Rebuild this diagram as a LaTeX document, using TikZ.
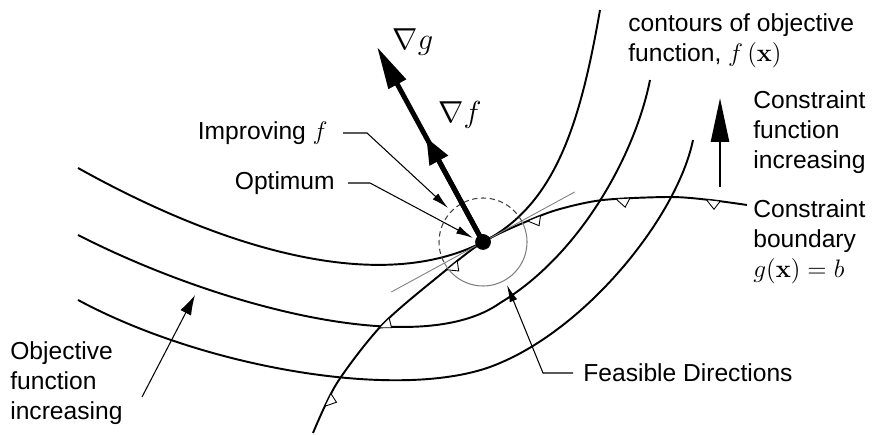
\documentclass[tikz,border=0pt]{standalone}
\usepackage[no-math]{fontspec}
\setmainfont{Liberation Sans}
\usetikzlibrary{arrows.meta,decorations.markings}

\newcommand{\tritick}{\draw[fill=white, line width=0.5pt] (-4pt,0) -- (4pt,0) -- (1pt,-5pt) -- cycle;}

\tikzset{
  contour/.style={line width=1.1pt},
  leader/.style={line width=0.6pt, -{Latex[length=0.34cm,width=0.16cm]}},
  lbl/.style={font=\fontsize{14}{17}\selectfont, align=left, inner sep=0pt},
  grad/.style={font=\fontsize{16}{19}\selectfont, inner sep=0pt},
  boundary/.style={contour, postaction={decorate}, decoration={markings,
      mark=at position 0.068 with {\tritick},
      mark=at position 0.248 with {\tritick},
      mark=at position 0.415 with {\tritick},
      mark=at position 0.594 with {\tritick},
      mark=at position 0.766 with {\tritick},
      mark=at position 0.936 with {\tritick}}}
}

\begin{document}
\begin{tikzpicture}
  \useasboundingbox (0,0) rectangle (17.56,8.70);
  \coordinate (O) at (9.66,3.86);

  \draw[contour] (1.56,5.34) .. controls (4.50,3.70) and (7.60,2.80) .. (O)
    .. controls (11.10,4.60) and (11.60,6.20) .. (12.00,8.50);
  \draw[contour] (1.56,4.00) .. controls (4.36,2.57) and (8.40,1.50) .. (10.00,2.64)
    .. controls (11.60,3.60) and (12.70,5.60) .. (13.00,7.10);
  \draw[contour] (1.56,2.70) .. controls (4.16,1.30) and (8.20,0.64) .. (10.00,1.44)
    .. controls (11.80,2.20) and (13.55,4.40) .. (13.86,5.90);

  \draw[boundary] plot[smooth] coordinates {(6.26,0.04) (6.74,1.04) (7.64,2.20) (8.80,3.20) (9.66,3.86) (10.60,4.30) (11.20,4.52) (12.06,4.70) (13.40,4.76) (14.20,4.70) (14.94,4.60)};

  \draw[gray, line width=0.5pt] (O) ++(208.6:2.09) -- ++(28.6:4.18);
  \draw[black!75, line width=0.6pt, dash pattern=on 3pt off 2pt] (O) ++(28.6:0.88) arc (28.6:208.6:0.88);
  \draw[gray, line width=0.6pt] (O) ++(208.6:0.88) arc (208.6:388.6:0.88);

  \draw[line width=2.8pt, -{Triangle[length=0.85cm,width=0.38cm]}] (O) -- ++(118.5:4.44) coordinate (gtip);
  \draw[line width=2.8pt, -{Triangle[length=0.53cm,width=0.40cm]}] (O) -- ++(118.5:2.38) coordinate (ftip);
  \filldraw[black] (O) circle (0.15);
  \node[grad] (gradg) at (8.26,7.86) {$\nabla g$};
  \node[grad] (gradf) at (9.20,6.40) {$\nabla f$};

  \node[lbl, anchor=east] (impr) at (6.56,6.04) {Improving $f$};
  \coordinate (imprtip) at (8.96,4.54);
  \draw[leader] ([xshift=0.30cm]impr.east) -- ++(0.48,0) -- (imprtip);

  \node[lbl, anchor=east] (optm) at (6.70,5.04) {Optimum};
  \coordinate (opttip) at (9.46,3.94);
  \draw[leader] ([xshift=0.26cm]optm.east) -- ++(0.44,0) -- (opttip);

  \node[lbl, anchor=west] (feas) at (11.66,1.24) {Feasible Directions};
  \coordinate (feastip) at (10.14,3.00);
  \draw[leader] ([xshift=-0.20cm]feas.west) -- ++(-0.60,0) -- (feastip);

  \node[lbl, anchor=west] (objinc) at (0.20,1.04) {Objective\\function\\increasing};
  \coordinate (objfoot) at (2.84,0.76);
  \coordinate (objtip) at (3.90,2.80);
  \draw[line width=0.6pt, -{Latex[length=0.40cm,width=0.24cm]}] (objfoot) -- (objtip);

  \node[lbl, anchor=west] (contours) at (12.56,7.88) {contours of objective\\function, $f\,(\mathbf{x})$};

  \node[lbl, anchor=west] (cinc) at (15.06,6.06) {Constraint\\function\\increasing};
  \coordinate (cfoot) at (14.40,4.96);
  \coordinate (ctip) at (14.40,6.74);
  \draw[line width=1.5pt, -{Triangle[length=0.88cm,width=0.36cm]}] (cfoot) -- (ctip);

  \node[lbl, anchor=west] (cbound) at (15.06,3.86) {Constraint\\boundary\\$g(\mathbf{x}) = b$};
\end{tikzpicture}
\end{document}
